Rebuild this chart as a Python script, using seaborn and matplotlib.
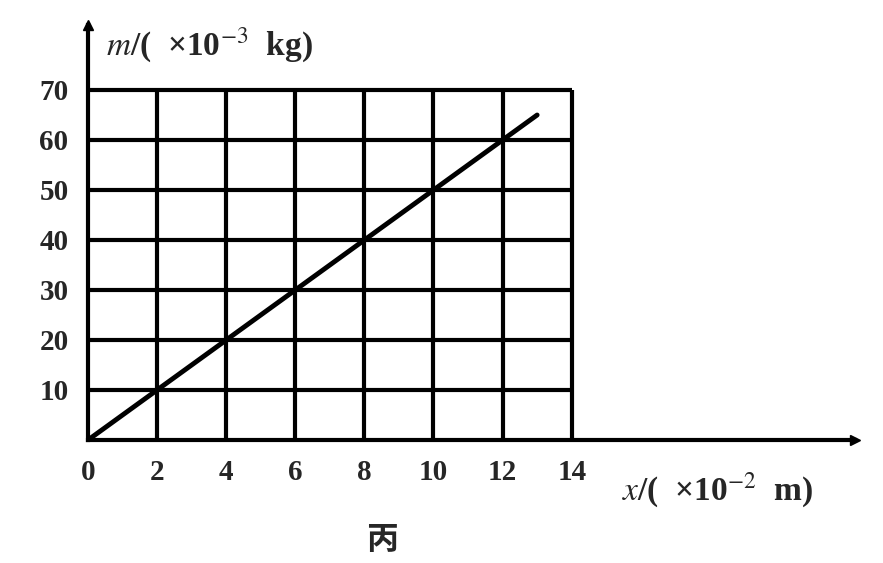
import numpy as np
import pandas as pd
import matplotlib
matplotlib.use("Agg")
import matplotlib.pyplot as plt
import seaborn as sns

# data
x_ticks = [0, 2, 4, 6, 8, 10, 12, 14]
y_ticks = [10, 20, 30, 40, 50, 60, 70]
line_x = [0, 13]
line_m = [0, 65]

sns.set_style("white")
plt.rcParams["font.family"] = ["Liberation Serif", "Noto Sans CJK SC", "DejaVu Sans"]
plt.rcParams["mathtext.fontset"] = "stix"

fig = plt.figure(figsize=(8.83, 5.63), dpi=100)
ax = fig.add_axes([88 / 883, 123 / 563, (855 - 88) / 883, (440 - 25) / 563])
ax.set_xlim(0, 22.2)
ax.set_ylim(0, 83)

# grid only inside the 0..14 / 0..70 box
for xv in x_ticks[1:]:
    ax.plot([xv, xv], [0, 70], color="black", lw=3, solid_capstyle="butt")
for yv in y_ticks:
    ax.plot([0, 14], [yv, yv], color="black", lw=3, solid_capstyle="butt")

df = pd.DataFrame({"x": line_x, "m": line_m})
sns.lineplot(data=df, x="x", y="m", ax=ax, color="black", lw=3.5)

for s in ["top", "right"]:
    ax.spines[s].set_visible(False)
for s in ["left", "bottom"]:
    ax.spines[s].set_linewidth(3)
    ax.spines[s].set_color("black")
ax.plot(1, 0, ">k", ms=7, transform=ax.transAxes, clip_on=False)
ax.plot(0, 1, "^k", ms=7, transform=ax.transAxes, clip_on=False)

ax.set_xticks(x_ticks)
ax.set_yticks(y_ticks)
ax.set_xticklabels([str(v) for v in x_ticks], fontsize=21, fontweight="bold")
ax.set_yticklabels([str(v) for v in y_ticks], fontsize=21, fontweight="bold")
ax.tick_params(axis="x", length=0, pad=14)
ax.tick_params(axis="y", length=0, pad=14)
ax.set_xlabel("")
ax.set_ylabel("")

fig.text(106 / 883, 1 - 45 / 563, r"$m$/(  ×10$^{-3}$  kg)", fontsize=24,
         fontweight="bold", va="center", ha="left")
fig.text(622 / 883, 1 - 490 / 563, r"$x$/(  ×10$^{-2}$  m)", fontsize=24,
         fontweight="bold", va="center", ha="left")
fig.text(382 / 883, 1 - 540 / 563, "丙", fontsize=23, fontweight="bold",
         va="center", ha="center", family=["Noto Sans CJK SC", "DejaVu Sans"])

fig.savefig("out.png", dpi=100)
